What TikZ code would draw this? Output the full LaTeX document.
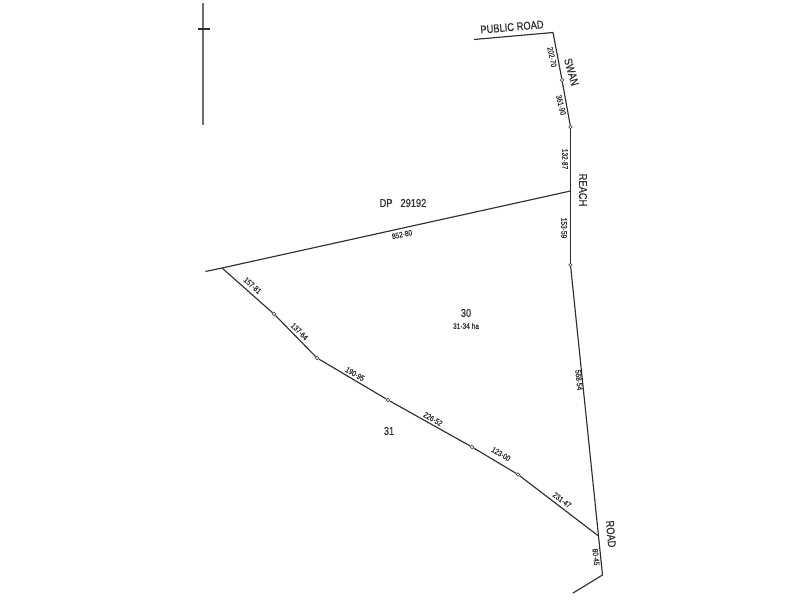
\documentclass[tikz,border=0pt]{standalone}
\usepackage{fontspec}
\setmainfont[FakeStretch=0.82,FakeBold=0.4,Kerning=Off]{Liberation Sans}
\definecolor{ink}{HTML}{2E2E2E}
\tikzset{
  bound/.style={draw=ink,line width=0.85pt,line join=round},
  peg/.style={circle,draw=ink,fill=white,line width=0.5pt,inner sep=0pt,minimum size=2.6pt},
  dim/.style={text=ink,inner sep=0pt,font=\fontsize{6}{7}\selectfont},
  big/.style={text=ink,inner sep=0pt,font=\fontsize{8.5}{10}\selectfont},
  lot/.style={text=ink,inner sep=0pt,font=\fontsize{8.5}{10}\selectfont}
}
\begin{document}
\begin{tikzpicture}[x=0.75pt,y=-0.75pt]
\useasboundingbox[fill=white] (0,0) rectangle (800,600);
% north point
\coordinate (nt) at (203,3); \coordinate (nb) at (203,125);
\coordinate (cl) at (198,29); \coordinate (cr) at (210,29);
\draw[draw=ink!70,line width=0.9pt] (nt) -- (nb);
\draw[draw=ink,line width=1.4pt] (cl) -- (cr);
% points
\coordinate (pr) at (474,39.5);
\coordinate (a) at (553,32.5);
\node[peg] (b) at (562,80) {};
\node[peg] (c) at (570.5,127) {};
\coordinate (j) at (570.5,191);
\node[peg] (d) at (570.5,265) {};
\coordinate (e) at (598.5,536);
\coordinate (f) at (602.5,575);
\coordinate (g) at (573,593);
\coordinate (dp) at (205.5,271.5);
\coordinate (h) at (222,268);
\node[peg] (i) at (274,314) {};
\node[peg] (k) at (317,358) {};
\node[peg] (l) at (388,400) {};
\node[peg] (m) at (472,447) {};
\node[peg] (n) at (518,474.5) {};
% boundaries
\draw[bound] (pr) -- (a) -- (b);
\draw[bound] (b) -- (c);
\draw[bound] (c) -- (j);
\draw[bound] (j) -- (d);
\draw[bound] (d) -- (e);
\draw[bound] (e) -- (f) -- (g);
\draw[bound] (dp) -- (h) -- (j);
\draw[bound] (h) -- (i);
\draw[bound] (i) -- (k);
\draw[bound] (k) -- (l);
\draw[bound] (l) -- (m);
\draw[bound] (m) -- (n);
\draw[bound] (n) -- (e);
% labels
\node[big,rotate=5] (t1) at (512,27) {PUBLIC\hspace{0.25em}ROAD};
\node[big,rotate=-74] (t2) at (571.5,72) {SWAN};
\node[big,rotate=-90] (t3) at (583,190) {REACH};
\node[big,rotate=-85] (t4) at (611,534) {ROAD};
\node[big] (t5) at (403,203) {DP\hspace{0.7em}29192};
\node[lot] (t6) at (466,313) {30};
\node[dim] (t7) at (466,326) {31·34 ha};
\node[lot] (t8) at (389,431) {31};
\node[dim,rotate=-78] (d1) at (552,57) {202·70};
\node[dim,rotate=-76] (d2) at (561,105) {361·90};
\node[dim,rotate=-90] (d3) at (565,159) {132·87};
\node[dim,rotate=-90] (d4) at (564,228) {153·59};
\node[dim,rotate=-84] (d5) at (579,380) {568·54};
\node[dim,rotate=-84] (d6) at (596,557) {80·45};
\node[dim,rotate=-37] (d7) at (562,500) {231·47};
\node[dim,rotate=-30] (d8) at (501,454) {123·00};
\node[dim,rotate=-30] (d9) at (433,419) {226·52};
\node[dim,rotate=-30] (d10) at (355,374) {190·95};
\node[dim,rotate=-45] (d11) at (299.5,331.5) {137·64};
\node[dim,rotate=-42] (d12) at (252.5,285.5) {157·81};
\node[dim,rotate=12] (d13) at (402,234.5) {852·80};
\end{tikzpicture}
\end{document}
